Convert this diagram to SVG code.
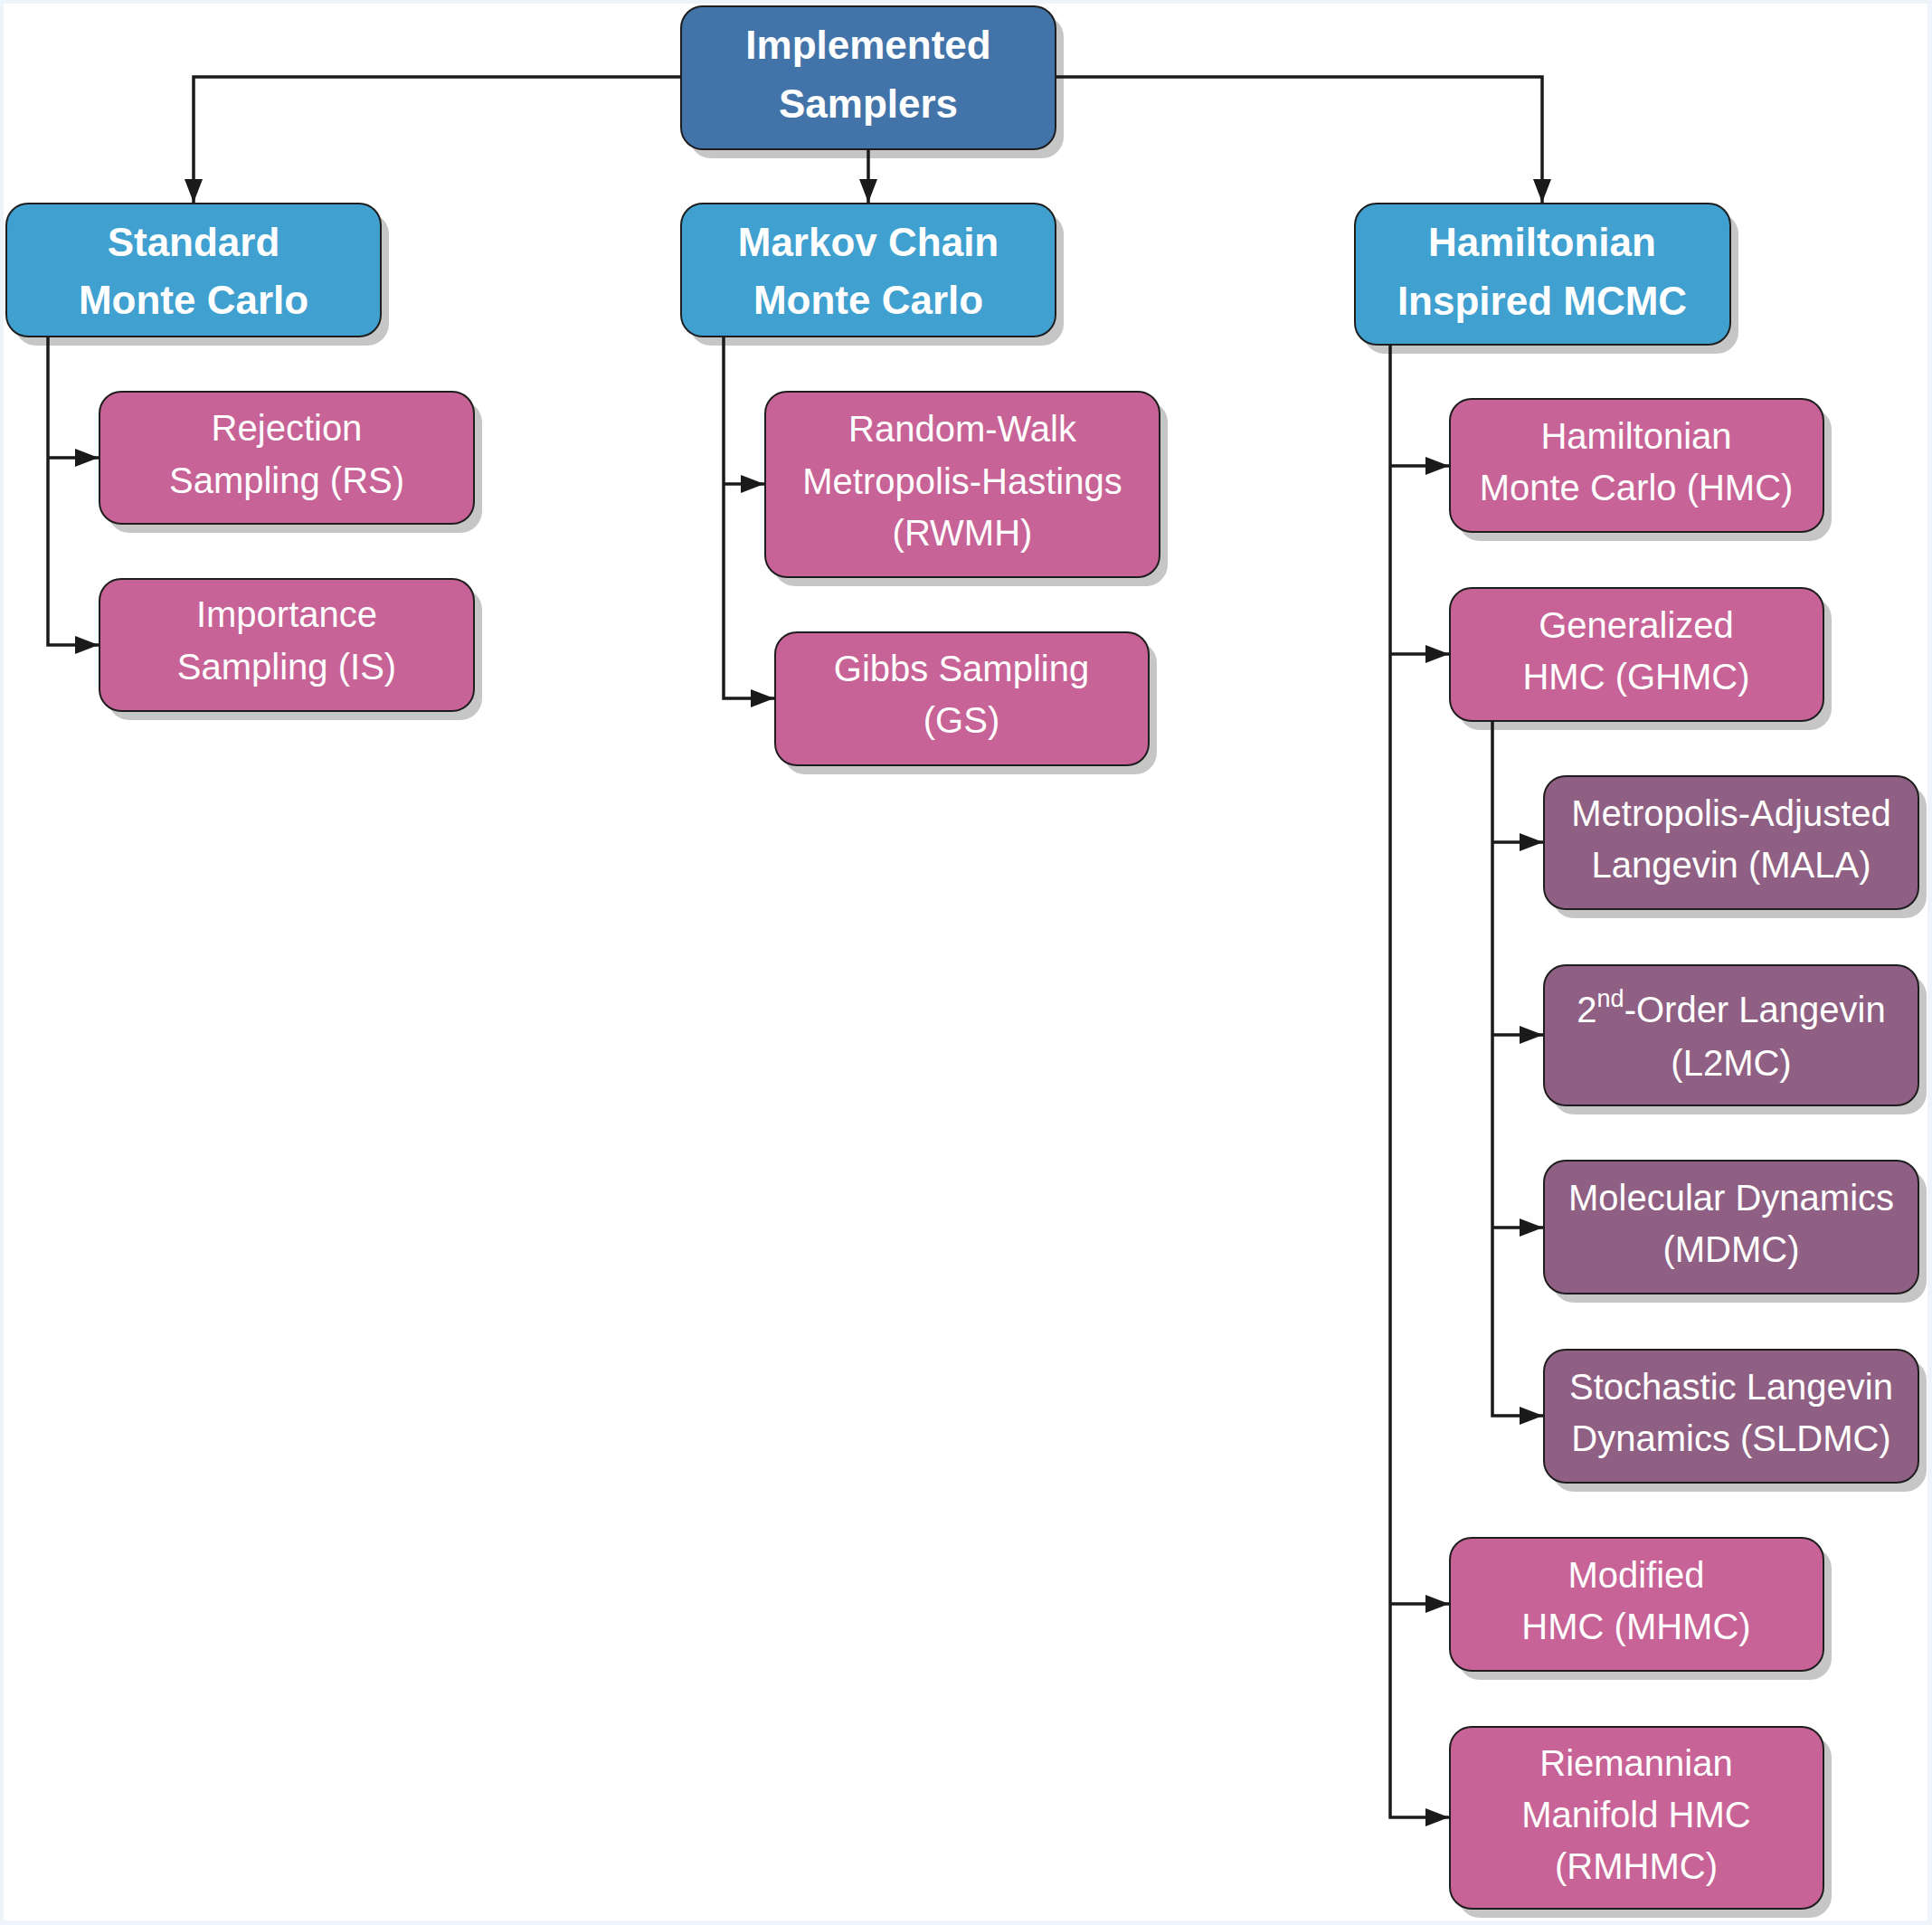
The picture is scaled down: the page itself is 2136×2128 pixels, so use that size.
<svg xmlns="http://www.w3.org/2000/svg" width="2136" height="2128" viewBox="0 0 2136 2128">
<defs>
<style>
.sh{fill:#c6c6c6}
.bx{stroke:#1e1e1e;stroke-width:2}
.root{fill:#4374a9}
.l1{fill:#40a0d0}
.pk{fill:#c76396}
.pu{fill:#8f6083}
.th{font-family:"Liberation Sans",Arial,sans-serif;font-weight:bold;font-size:44px;fill:#ffffff;text-anchor:middle}
.tb{font-family:"Liberation Sans",Arial,sans-serif;font-size:40px;fill:#ffffff;text-anchor:middle}
.cn{fill:none;stroke:#1a1a1a;stroke-width:3.5}
</style>
<marker id="ah" markerUnits="userSpaceOnUse" markerWidth="26" markerHeight="20" refX="26" refY="10" orient="auto">
<path d="M0,0 L26,10 L0,20 z" fill="#1a1a1a"/>
</marker>
</defs>
<rect x="0" y="0" width="2136" height="2128" fill="#edf4fc"/>
<rect x="4" y="4" width="2127" height="2119" fill="#ffffff"/>

<g id="root">
<rect class="sh" x="762" y="17" width="414" height="158" rx="24"/>
<rect class="bx root" x="753" y="7" width="414" height="158" rx="24"/>
<text class="th" x="960" y="65">Implemented</text>
<text class="th" x="960" y="130">Samplers</text>
</g>

<g id="smc">
<rect class="sh" x="16" y="235" width="414" height="147" rx="24"/>
<rect class="bx l1" x="7" y="225" width="414" height="147" rx="24"/>
<text class="th" x="214" y="283">Standard</text>
<text class="th" x="214" y="347">Monte Carlo</text>
</g>

<g id="mcmc">
<rect class="sh" x="762" y="235" width="414" height="147" rx="24"/>
<rect class="bx l1" x="753" y="225" width="414" height="147" rx="24"/>
<text class="th" x="960" y="283">Markov Chain</text>
<text class="th" x="960" y="347">Monte Carlo</text>
</g>

<g id="hmcmc">
<rect class="sh" x="1507" y="235" width="415" height="156" rx="24"/>
<rect class="bx l1" x="1498" y="225" width="415" height="156" rx="24"/>
<text class="th" x="1705" y="283">Hamiltonian</text>
<text class="th" x="1705" y="348">Inspired MCMC</text>
</g>

<g id="rs">
<rect class="sh" x="119" y="443" width="414" height="146" rx="24"/>
<rect class="bx pk" x="110" y="433" width="414" height="146" rx="24"/>
<text class="tb" x="317" y="487">Rejection</text>
<text class="tb" x="317" y="545">Sampling (RS)</text>
</g>

<g id="is">
<rect class="sh" x="119" y="650" width="414" height="146" rx="24"/>
<rect class="bx pk" x="110" y="640" width="414" height="146" rx="24"/>
<text class="tb" x="317" y="693">Importance</text>
<text class="tb" x="317" y="751">Sampling (IS)</text>
</g>

<g id="rwmh">
<rect class="sh" x="855" y="443" width="436" height="205" rx="24"/>
<rect class="bx pk" x="846" y="433" width="436" height="205" rx="24"/>
<text class="tb" x="1064" y="488">Random-Walk</text>
<text class="tb" x="1064" y="546">Metropolis-Hastings</text>
<text class="tb" x="1064" y="603">(RWMH)</text>
</g>

<g id="gs">
<rect class="sh" x="866" y="709" width="413" height="147" rx="24"/>
<rect class="bx pk" x="857" y="699" width="413" height="147" rx="24"/>
<text class="tb" x="1063" y="753">Gibbs Sampling</text>
<text class="tb" x="1063" y="810">(GS)</text>
</g>

<g id="hmc">
<rect class="sh" x="1612" y="451" width="413" height="147" rx="24"/>
<rect class="bx pk" x="1603" y="441" width="413" height="147" rx="24"/>
<text class="tb" x="1809" y="496">Hamiltonian</text>
<text class="tb" x="1809" y="553">Monte Carlo (HMC)</text>
</g>

<g id="ghmc">
<rect class="sh" x="1612" y="660" width="413" height="147" rx="24"/>
<rect class="bx pk" x="1603" y="650" width="413" height="147" rx="24"/>
<text class="tb" x="1809" y="705">Generalized</text>
<text class="tb" x="1809" y="762">HMC (GHMC)</text>
</g>

<g id="mala">
<rect class="sh" x="1716" y="868" width="414" height="147" rx="24"/>
<rect class="bx pu" x="1707" y="858" width="414" height="147" rx="24"/>
<text class="tb" x="1914" y="913">Metropolis-Adjusted</text>
<text class="tb" x="1914" y="970">Langevin (MALA)</text>
</g>

<g id="l2mc">
<rect class="sh" x="1716" y="1077" width="414" height="155" rx="24"/>
<rect class="bx pu" x="1707" y="1067" width="414" height="155" rx="24"/>
<text class="tb" x="1914" y="1130">2<tspan dy="-17" font-size="27">nd</tspan><tspan dy="17">-Order Langevin</tspan></text>
<text class="tb" x="1914" y="1189">(L2MC)</text>
</g>

<g id="mdmc">
<rect class="sh" x="1716" y="1293" width="414" height="147" rx="24"/>
<rect class="bx pu" x="1707" y="1283" width="414" height="147" rx="24"/>
<text class="tb" x="1914" y="1338">Molecular Dynamics</text>
<text class="tb" x="1914" y="1395">(MDMC)</text>
</g>

<g id="sldmc">
<rect class="sh" x="1716" y="1502" width="414" height="147" rx="24"/>
<rect class="bx pu" x="1707" y="1492" width="414" height="147" rx="24"/>
<text class="tb" x="1914" y="1547">Stochastic Langevin</text>
<text class="tb" x="1914" y="1604">Dynamics (SLDMC)</text>
</g>

<g id="mhmc">
<rect class="sh" x="1612" y="1710" width="413" height="147" rx="24"/>
<rect class="bx pk" x="1603" y="1700" width="413" height="147" rx="24"/>
<text class="tb" x="1809" y="1755">Modified</text>
<text class="tb" x="1809" y="1812">HMC (MHMC)</text>
</g>

<g id="rmhmc">
<rect class="sh" x="1612" y="1919" width="413" height="201" rx="24"/>
<rect class="bx pk" x="1603" y="1909" width="413" height="201" rx="24"/>
<text class="tb" x="1809" y="1963">Riemannian</text>
<text class="tb" x="1809" y="2020">Manifold HMC</text>
<text class="tb" x="1809" y="2077">(RMHMC)</text>
</g>

<g id="connectors" class="cn">
<path d="M753,85 H214 V224" marker-end="url(#ah)"/>
<path d="M960,165 V224" marker-end="url(#ah)"/>
<path d="M1167,85 H1705 V224" marker-end="url(#ah)"/>
<path d="M53,372 V713 H109" marker-end="url(#ah)"/>
<path d="M53,506 H109" marker-end="url(#ah)"/>
<path d="M800,372 V772 H856" marker-end="url(#ah)"/>
<path d="M800,535 H845" marker-end="url(#ah)"/>
<path d="M1537,381 V2009 H1602" marker-end="url(#ah)"/>
<path d="M1537,515 H1602" marker-end="url(#ah)"/>
<path d="M1537,723 H1602" marker-end="url(#ah)"/>
<path d="M1537,1773 H1602" marker-end="url(#ah)"/>
<path d="M1650,797 V1565 H1706" marker-end="url(#ah)"/>
<path d="M1650,931 H1706" marker-end="url(#ah)"/>
<path d="M1650,1144 H1706" marker-end="url(#ah)"/>
<path d="M1650,1357 H1706" marker-end="url(#ah)"/>
</g>
</svg>
